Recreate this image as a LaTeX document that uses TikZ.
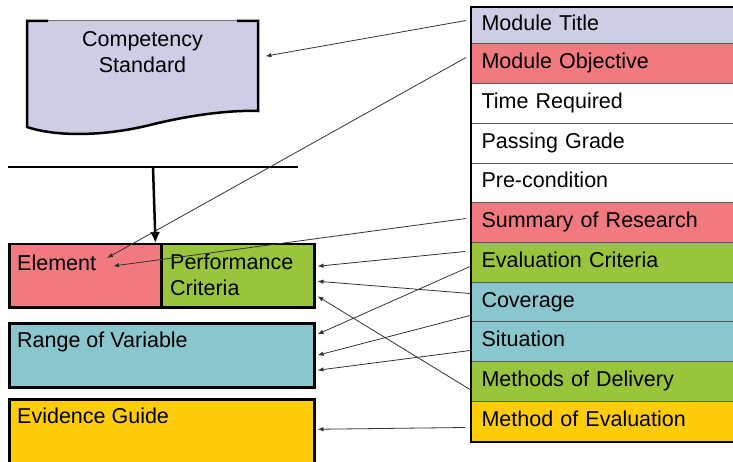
\documentclass[tikz,border=0pt]{standalone}
\usepackage{fontspec}
\setmainfont{Liberation Sans}
\usetikzlibrary{arrows.meta,calc}
\definecolor{lav}{RGB}{205,205,230}
\definecolor{rose}{RGB}{240,122,128}
\definecolor{leaf}{RGB}{153,197,60}
\definecolor{aqua}{RGB}{137,198,206}
\definecolor{gold}{RGB}{254,204,8}
\begin{document}
\begin{tikzpicture}[x=1pt,y=-1pt,
  lbl/.style={font=\fontsize{21.5}{26}\selectfont, inner sep=0pt},
  row/.style={anchor=north west, draw=black!65, line width=1pt,
    minimum width=270pt, text width=250pt, inner xsep=10pt, inner ysep=0pt,
    align=left, text height=15pt, text depth=5pt,
    font=\fontsize{21.5}{26}\selectfont},
  box/.style={anchor=north west, draw=black, line width=2.5pt, inner sep=0pt},
  link/.style={draw=black!80, line width=0.8pt, -{Latex[length=6pt,width=4.5pt]}},
]
\useasboundingbox (0,0) rectangle (733,462);
\clip (0,0) rectangle (733,462);

% ---- module table on the right ----
\node[row, fill=lav,   minimum height=36pt] (mt)    at (471,7)   {Module Title};
\node[row, fill=rose,  minimum height=40pt] (mo)    at (471,43)  {Module Objective};
\node[row, fill=white, minimum height=40pt] (tr)    at (471,83)  {Time Required};
\node[row, fill=white, minimum height=40pt] (pg)    at (471,123) {Passing Grade};
\node[row, fill=white, minimum height=39pt] (pcond) at (471,163) {Pre-condition};
\node[row, fill=rose,  minimum height=40pt] (sr)    at (471,202) {Summary of Research};
\node[row, fill=leaf,  minimum height=40pt] (ec)    at (471,242) {Evaluation Criteria};
\node[row, fill=aqua,  minimum height=39pt] (cov)   at (471,282) {Coverage};
\node[row, fill=aqua,  minimum height=40pt] (sit)   at (471,321) {Situation};
\node[row, fill=leaf,  minimum height=40pt] (md)    at (471,361) {Methods of Delivery};
\node[row, fill=gold,  minimum height=40pt] (me)    at (471,401) {Method of Evaluation};
% outer frame of the table
\draw[line width=2.5pt] (mt.north east) -- (mt.north west) -- (me.south west) -- (me.south east);

% ---- competency standard (document shape) ----
\node[anchor=north west, minimum width=231pt, minimum height=90pt, inner sep=0pt] (cs) at (27,21) {};
\fill[lav] (27,21) -- (258,21) -- (258,111)
  .. controls (230,110) and (190,115) .. (150,125)
  .. controls (110,135) and (60,138) .. (27,127) -- cycle;
\draw[black!55, line width=1pt] (27,21) -- (258,21);
\draw[line width=2.5pt] (48,21) -- (27,21) -- (27,127)
  .. controls (60,138) and (110,135) .. (150,125)
  .. controls (190,115) and (230,110) .. (258,111) -- (258,21) -- (237,21);
\node[lbl, align=center, anchor=north] (csT) at (142.5,31) {Competency\\Standard};

% ---- unit structure on the left ----
\coordinate (barL) at (8,167);
\coordinate (barR) at (298,167);
\coordinate (hub)  at (153,167);
\draw[line width=2.5pt] (barL) -- (barR);

\node[box, fill=rose, minimum width=152pt, minimum height=63pt] (el) at (8,243) {};
\node[box, fill=leaf, minimum width=153pt, minimum height=63pt] (pc) at (160,243) {};
\node[box, fill=aqua, minimum width=305pt, minimum height=64pt] (rv) at (8,322) {};
\node[box, fill=gold, minimum width=305pt, minimum height=68pt] (eg) at (8,398) {};

\draw[line width=2.5pt, -{Latex[length=11pt,width=10pt]}] (hub) -- ($(el.north east)+(-7,0)$);

\node[lbl, anchor=base west] (elT) at (17,270) {Element};
\node[lbl, anchor=north west, align=left] (pcT) at (170,254) {Performance\\Criteria};
\node[lbl, anchor=base west] (rvT) at (17,347) {Range of Variable};
\node[lbl, anchor=base west] (egT) at (17,423) {Evidence Guide};

% ---- links from the table to the unit parts ----
\draw[link] ($(mt.west)+(-5,-5)$)   -- ($(cs.east)+(7,-10)$);
\draw[link] ($(mo.west)+(-5,-6)$)   -- ($(el.north west)+(99,15)$);
\draw[link] ($(sr.west)+(-5,-4)$)   -- ($(el.north west)+(105,23)$);
\draw[link] ($(ec.west)+(-6,-11)$)  -- ($(pc.east)+(2,-9.5)$);
\draw[link] ($(cov.west)+(-1,-8.5)$) -- ($(pc.east)+(2,5.5)$);
\draw[link] ($(md.west)+(-1,8)$)    -- ($(pc.east)+(2,20.5)$);
\draw[link] ($(ec.west)+(-1,4)$)    -- ($(rv.east)+(2,-21)$);
\draw[link] ($(cov.west)+(-1,13.5)$) -- ($(rv.east)+(2,0)$);
\draw[link] ($(sit.west)+(-1,9)$)   -- ($(rv.east)+(2,15)$);
\draw[link] ($(me.west)+(-6,6)$)    -- ($(eg.east)+(2,-4)$);
\end{tikzpicture}
\end{document}
